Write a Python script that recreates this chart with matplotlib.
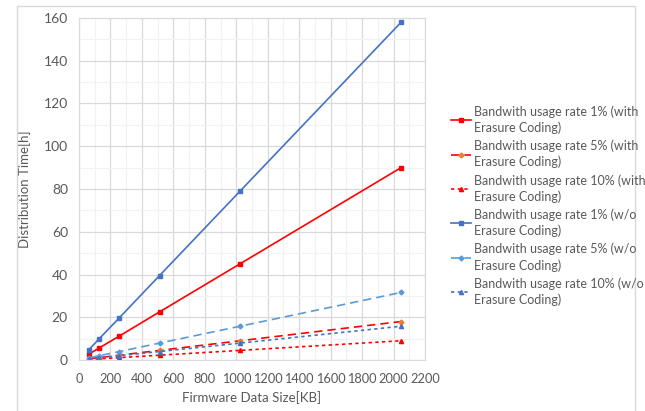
import matplotlib
matplotlib.use("Agg")
import matplotlib.pyplot as plt
from matplotlib.patches import Rectangle
from matplotlib.ticker import MultipleLocator

# ─── Daten ────────────────────────────────────────────────────────────────────
size_kb = [64, 128, 256, 512, 1024, 2048]

ec_1  = [2.8, 5.6, 11.2, 22.5, 45.0, 90.0]
ec_5  = [0.56, 1.1, 2.25, 4.5, 9.0, 18.0]
ec_10 = [0.28, 0.56, 1.1, 2.25, 4.5, 9.0]
no_1  = [4.9, 9.9, 19.7, 39.5, 79.0, 158.0]
no_5  = [1.0, 2.0, 3.95, 7.9, 15.8, 31.6]
no_10 = [0.5, 1.0, 2.0, 3.95, 7.9, 15.8]

labels = [
    "Bandwith usage rate 1% (with\nErasure Coding)",
    "Bandwith usage rate 5% (with\nErasure Coding)",
    "Bandwith usage rate 10% (with\nErasure Coding)",
    "Bandwith usage rate 1% (w/o\nErasure Coding)",
    "Bandwith usage rate 5% (w/o\nErasure Coding)",
    "Bandwith usage rate 10% (w/o\nErasure Coding)",
]

plt.rcParams["font.family"] = ["Lato", "DejaVu Sans"]
TXT = "#595959"

fig = plt.figure(figsize=(6.45, 4.11), dpi=100)
ax = fig.add_axes([79 / 645, 1 - 360 / 411, (425 - 79) / 645, (360 - 18) / 411])

# Rahmen des Diagrammbereichs
fig.patches.append(Rectangle((17 / 645, -0.01), (635 - 17) / 645, 1 - 6 / 411 + 0.01,
                             transform=fig.transFigure, fill=False,
                             edgecolor="#d9d9d9", linewidth=1.0))

RED, BLUE, LBLUE = "#ff0000", "#4472c4", "#5b9bd5"
ax.plot(size_kb, ec_1, color=RED, lw=1.2, marker="s", ms=3.5, label=labels[0])
ax.plot(size_kb, ec_5, color=RED, lw=1.2, ls=(0, (5, 3)), marker="D", ms=2.5,
        mfc="#ed7d31", mec="#ed7d31", label=labels[1])
ax.plot(size_kb, ec_10, color=RED, lw=1.2, ls=(0, (2, 2)), marker="^", ms=3,
        label=labels[2])
ax.plot(size_kb, no_1, color=BLUE, lw=1.2, marker="s", ms=3.5, label=labels[3])
ax.plot(size_kb, no_5, color=LBLUE, lw=1.2, ls=(0, (5, 3)), marker="D", ms=2.5,
        label=labels[4])
ax.plot(size_kb, no_10, color=BLUE, lw=1.2, ls=(0, (2, 2)), marker="^", ms=3,
        label=labels[5])

ax.set_xlim(0, 2200)
ax.set_ylim(0, 160)
ax.xaxis.set_major_locator(MultipleLocator(200))
ax.xaxis.set_minor_locator(MultipleLocator(100))
ax.yaxis.set_major_locator(MultipleLocator(20))
ax.yaxis.set_minor_locator(MultipleLocator(10))
ax.grid(which="major", color="#d9d9d9", lw=0.9)
ax.grid(which="minor", color="#f2f2f2", lw=0.9)
ax.set_axisbelow(True)
ax.tick_params(which="both", length=0, labelsize=10, colors=TXT)
ax.tick_params(axis="x", pad=9, labelsize=9.2)
ax.tick_params(axis="y", pad=8)
for sp in ax.spines.values():
    sp.set_color("#d9d9d9")

ax.set_xlabel("Firmware Data Size[KB]", fontsize=9.5, color=TXT, labelpad=5)
ax.set_ylabel("Distribution Time[h]", fontsize=9.5, color=TXT, labelpad=9)

leg = fig.legend(loc="upper left", bbox_to_anchor=(440 / 645, 1 - 94 / 411),
                 frameon=False, fontsize=9, labelcolor=TXT, handlelength=1.6,
                 handletextpad=0.2, labelspacing=0.45)
for t in leg.get_texts():
    t.set_linespacing(1.35)

fig.savefig("out.png", dpi=100)
